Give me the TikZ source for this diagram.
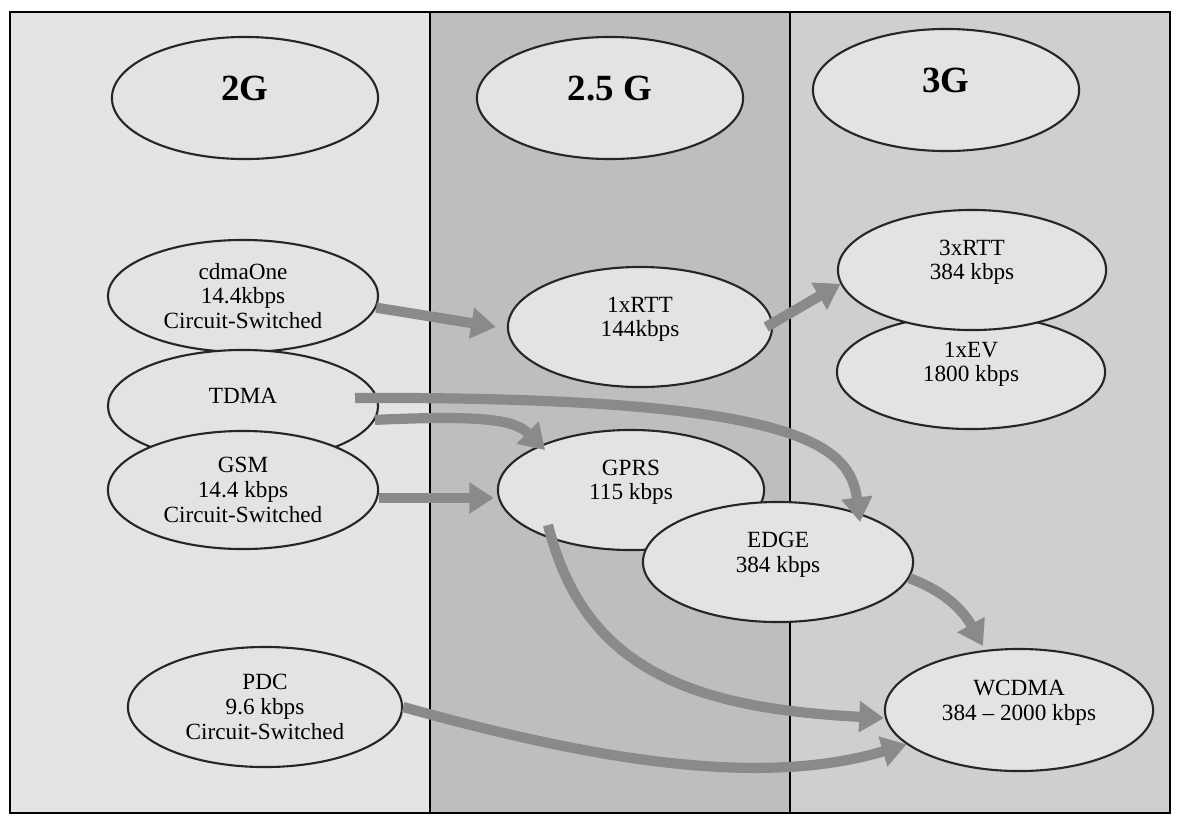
\documentclass[tikz,border=0pt]{standalone}
\usepackage{fontspec}
\setmainfont{Liberation Serif}
\usetikzlibrary{arrows.meta, shapes.geometric}
\definecolor{gtwobg}{HTML}{E4E4E4}
\definecolor{gtwofivebg}{HTML}{BEBEBE}
\definecolor{gthreebg}{HTML}{CFCFCF}
\definecolor{bubble}{HTML}{E3E3E3}
\definecolor{flowgray}{HTML}{8A8A8A}
\tikzset{
  gen/.style  = {ellipse, draw=black!85, line width=0.6pt, fill=bubble,
                 minimum width=2.66cm, minimum height=1.22cm, inner sep=0pt,
                 text depth=0.2cm,
                 font=\fontsize{10.5}{12}\selectfont\bfseries},
  tech/.style = {ellipse, draw=black!85, line width=0.6pt, fill=bubble,
                 minimum width=2.70cm, minimum height=1.20cm, inner sep=0pt,
                 align=center, font=\fontsize{6.6}{7}\selectfont},
  lift/.style = {text depth=0.2cm},
  flow/.style = {-{Triangle[length=7pt,width=8.5pt]}, line width=2.9pt, draw=flowgray},
}

\begin{document}
\begin{tikzpicture}[x=0.01cm, y=-0.01cm]
  \useasboundingbox (0,0) rectangle (1177,815);

  % generation columns
  \fill[gtwobg]     (10,12)  rectangle (430,813);
  \fill[gtwofivebg] (430,12) rectangle (790,813);
  \fill[gthreebg]   (790,12) rectangle (1170,813);
  \draw[line width=0.5pt] (10,12) rectangle (1170,813);
  \draw[line width=0.5pt] (430,12) -- (430,813);
  \draw[line width=0.5pt] (790,12) -- (790,813);

  % headers
  \node[gen] (gtwo)     at (245,98) {2G};
  \node[gen] (gtwofive) at (610,98) {2.5 G};
  \node[gen] (gthree)   at (946,90) {3G};

  % 2G
  \node[tech, minimum height=1.12cm] (cdma) at (243,296) {cdmaOne\\14.4kbps\\Circuit-Switched};
  \node[tech, lift, minimum height=1.12cm] (tdma) at (243,406) {TDMA};
  \node[tech, minimum height=1.18cm] (gsm)  at (243,490) {GSM\\14.4 kbps\\Circuit-Switched};
  \node[tech, minimum width=2.74cm]  (pdc)  at (265,707) {PDC\\9.6 kbps\\Circuit-Switched};

  % 2.5G
  \node[tech, lift, minimum width=2.64cm] (onexrtt) at (640,327) {1xRTT\\144kbps};
  \node[tech, lift, minimum width=2.66cm] (gprs)    at (631,490) {GPRS\\115 kbps};
  \node[tech, lift]                       (edge)    at (778,562) {EDGE\\384 kbps};

  % 3G
  \node[tech, lift, minimum width=2.68cm, minimum height=1.14cm] (onexev) at (971,372) {1xEV\\1800 kbps};
  \node[tech, lift, minimum width=2.68cm] (threexrtt) at (972,270) {3xRTT\\384 kbps};
  \node[tech, lift, minimum width=2.68cm, minimum height=1.22cm] (wcdma) at (1019,710) {WCDMA\\384 -- 2000 kbps};

  % migration paths
  \draw[flow] (cdma.-5) -- ([xshift=-0.11cm]onexrtt.west);
  \draw[flow] ([xshift=-0.07cm]onexrtt.east) -- (threexrtt.186);
  \draw[flow] ([shift={(112,-8)}]tdma.center) .. controls +(445,-2) and +(-10,-77) .. ([shift={(82,-40)}]edge.center);
  \draw[flow] (tdma.-6) .. controls +(110,-5) and +(-30,-30) .. ([shift={(-86,-40)}]gprs.center);
  \draw[flow] ([yshift=-0.08cm]gsm.east) -- ([xshift=-0.03cm, yshift=-0.08cm]gprs.west);
  \draw[flow] ([shift={(-83,35)}]gprs.center) .. controls +(35,140) and +(-200,-10) .. ([yshift=-0.08cm]wcdma.west);
  \draw[flow] (edge.-7) .. controls +(40,15) and +(-18,-32) .. ([shift={(-36,-64)}]wcdma.center);
  \draw[flow] (pdc.east) .. controls +(180,50) and +(-150,45) .. (wcdma.197);

\end{tikzpicture}
\end{document}
